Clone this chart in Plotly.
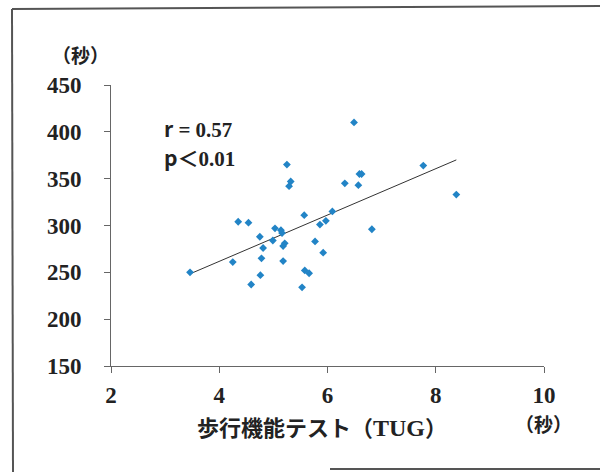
import numpy as np
import plotly.graph_objects as go

# Data
tug_sec = [3.46, 4.25, 4.35, 4.54, 4.59, 4.75, 4.76, 4.78, 4.81, 4.99,
           5.03, 5.14, 5.16, 5.18, 5.18, 5.21, 5.25, 5.29, 5.32, 5.53,
           5.57, 5.58, 5.66, 5.77, 5.86, 5.92, 5.97, 6.09, 6.32, 6.49,
           6.57, 6.59, 6.63, 6.82, 7.77, 8.38]
y_sec = [250, 261, 304, 303, 237, 288, 247, 265, 276, 284,
         297, 295, 292, 262, 278, 281, 365, 342, 347, 234,
         311, 252, 249, 283, 301, 271, 305, 315, 345, 410,
         343, 355, 355, 296, 364, 333]

x_ticks = [2, 4, 6, 8, 10]
y_ticks = [150, 200, 250, 300, 350, 400, 450]

CJK = "Noto Sans CJK JP"
stat_r = f"<span style='font-family:{CJK}'>r</span> = 0.57"
stat_p = f"<span style='font-family:{CJK}'>p＜</span>0.01"
x_title = f"歩行機能テスト（<span style='font-family:Liberation Serif;font-size:24px'>TUG</span>）"
unit = "（秒）"

slope, intercept = np.polyfit(tug_sec, y_sec, 1)
fit_x = np.array([min(tug_sec), max(tug_sec)])
fit_y = slope * fit_x + intercept

fig = go.Figure()
fig.add_trace(go.Scatter(x=fit_x, y=fit_y, mode="lines",
                         line=dict(color="#333333", width=1), hoverinfo="skip"))
fig.add_trace(go.Scatter(x=tug_sec, y=y_sec, mode="markers",
                         marker=dict(symbol="diamond", size=6, color="#2284c6")))

axis_font = dict(family="Liberation Serif", size=23, color="#222222", weight="bold")
fig.update_xaxes(range=[2, 10], tickvals=x_ticks, showline=True, linecolor="#666666",
                 linewidth=1, ticks="outside", ticklen=6, tickcolor="#666666",
                 showgrid=False, zeroline=False, tickfont=axis_font,
                 ticklabelstandoff=2)
fig.update_yaxes(range=[150, 450], tickvals=y_ticks, showline=True, linecolor="#666666",
                 linewidth=1, ticks="outside", ticklen=6, tickcolor="#666666",
                 showgrid=False, zeroline=False, tickfont=axis_font,
                 ticklabelstandoff=18)

ann_font = dict(family="Liberation Serif", size=21, color="#222222", weight="bold")
cjk_font = dict(family=CJK, size=22, color="#222222", weight="bold")
unit_font = dict(family=CJK, size=19, color="#222222", weight="bold")

L, R, T, B = 111, 56, 85, 106
pw, ph = 600 - L - R, 472 - T - B


def px2paper(px, py):
    return (px - L) / pw, (472 - B - py) / ph


texts = [
    (stat_r, 162, 128, "left", ann_font),
    (stat_p, 162, 157, "left", ann_font),
    (x_title, 322, 426, "center", cjk_font),
    (unit, 80, 55, "center", unit_font),
    (unit, 543, 423, "center", unit_font),
]
for txt, px, py, xa, f in texts:
    ax, ay = px2paper(px, py)
    fig.add_annotation(text=txt, x=ax, y=ay, xref="paper", yref="paper",
                       showarrow=False, xanchor=xa, yanchor="middle", font=f)

# Frame lines around the figure
frame = [((12, 9), (600, 6)), ((12, 9), (13, 472)), ((330, 469), (600, 469))]
for (x0, y0), (x1, y1) in frame:
    a0 = px2paper(x0, y0); a1 = px2paper(x1, y1)
    fig.add_shape(type="line", xref="paper", yref="paper",
                  x0=a0[0], y0=a0[1], x1=a1[0], y1=a1[1],
                  line=dict(color="#555555", width=2))

fig.update_layout(
    width=600, height=472,
    margin=dict(l=L, r=R, t=T, b=B),
    paper_bgcolor="white", plot_bgcolor="white",
    showlegend=False,
)

fig.write_html("out.html")
